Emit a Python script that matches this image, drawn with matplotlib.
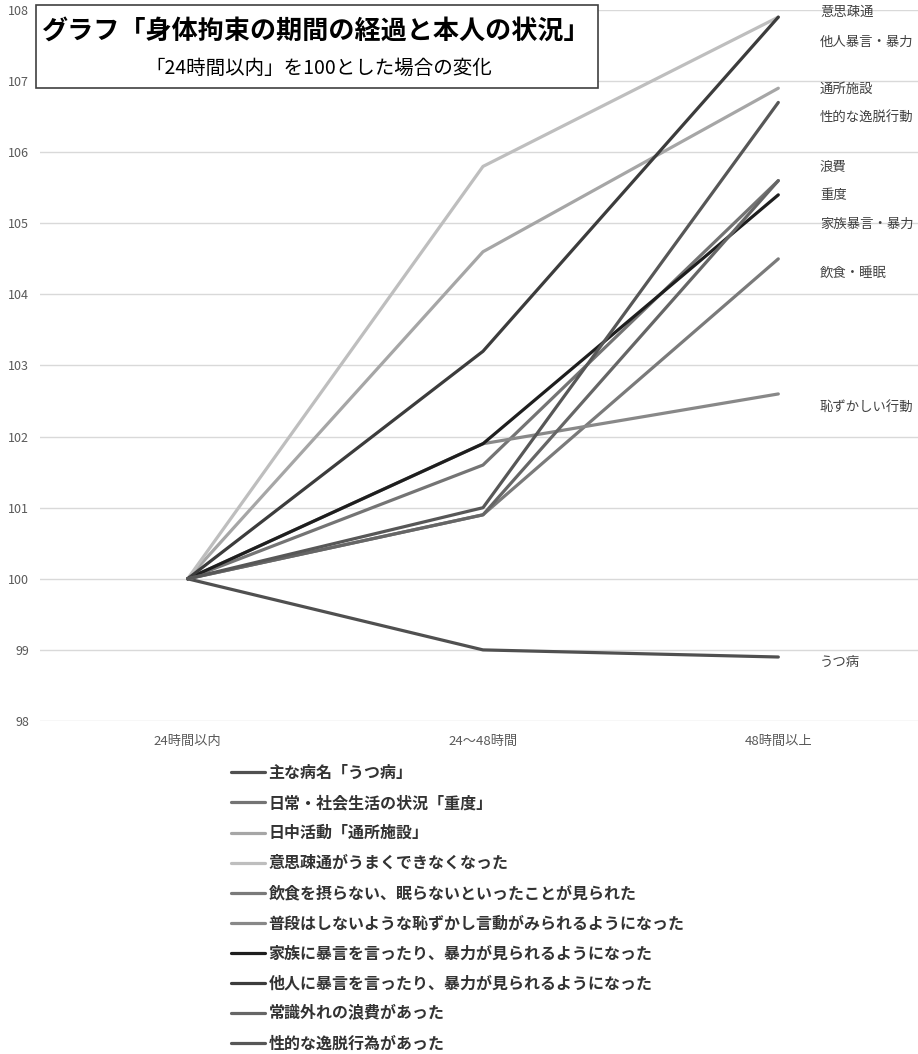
import matplotlib
matplotlib.use("Agg")
from matplotlib import pyplot as plt
from matplotlib.patches import Rectangle

plt.rcParams['font.family'] = ['Noto Sans CJK JP', 'DejaVu Sans']

# categories on the x axis
periods = ["24時間以内", "24〜48時間", "48時間以上"]

# series (legend order), index values with "24時間以内" = 100
series_names = [
    "主な病名「うつ病」",
    "日常・社会生活の状況「重度」",
    "日中活動「通所施設」",
    "意思疎通がうまくできなくなった",
    "飲食を摂らない、眠らないといったことが見られた",
    "普段はしないような恥ずかし言動がみられるようになった",
    "家族に暴言を言ったり、暴力が見られるようになった",
    "他人に暴言を言ったり、暴力が見られるようになった",
    "常識外れの浪費があった",
    "性的な逸脱行為があった",
]
utsu = [100, 99.0, 98.9]
judo = [100, 101.6, 105.6]
tsusho = [100, 104.6, 106.9]
ishisotsu = [100, 105.8, 107.9]
inshoku = [100, 100.9, 104.5]
hazukashii = [100, 101.9, 102.6]
kazoku = [100, 101.9, 105.4]
tanin = [100, 103.2, 107.9]
rouhi = [100, 100.9, 105.6]
seiteki = [100, 101.0, 106.7]
values = [utsu, judo, tsusho, ishisotsu, inshoku,
          hazukashii, kazoku, tanin, rouhi, seiteki]

colors = ["#505050", "#747474", "#a6a6a6", "#bebebe", "#7a7a7a",
          "#888888", "#1e1e1e", "#3c3c3c", "#666666", "#575757"]

# short labels at the right end of the lines
end_labels = ["意思疎通", "他人暴言・暴力", "通所施設", "性的な逸脱行動", "浪費",
              "重度", "家族暴言・暴力", "飲食・睡眠", "恥ずかしい行動", "うつ病"]
end_label_y = [107.97, 107.55, 106.89, 106.5, 105.79,
               105.4, 104.99, 104.3, 102.42, 98.83]

W, H = 918, 1054
fig = plt.figure(figsize=(W / 100, H / 100), dpi=100)
ax = fig.add_axes([40 / W, 1 - 721 / H, 1 - 40 / W, (721 - 10) / H])

x = list(range(len(periods)))
handles = []
for name, ys, c in zip(series_names, values, colors):
    ln, = ax.plot(x, ys, color=c, lw=2.3, label=name,
                  solid_joinstyle='round', solid_capstyle='round', zorder=3)
    handles.append(ln)

ax.set_xlim(-0.5, 2.473)
ax.set_ylim(98, 108)
ax.set_yticks(range(98, 109))
ax.set_xticks(x)
ax.set_xticklabels(periods, fontsize=9.5, color="#595959")
ax.tick_params(axis='y', labelsize=9, labelcolor="#595959", length=0, pad=8)
ax.tick_params(axis='x', length=0, pad=10)
ax.grid(axis='y', color="#d9d9d9", lw=1)
ax.set_axisbelow(True)
for s in ax.spines.values():
    s.set_visible(False)

for lab, yl in zip(end_labels, end_label_y):
    ax.annotate(lab, xy=(2, yl), xytext=(30, 0), textcoords='offset points',
                fontsize=9.6, color="#404040", va='center', ha='left',
                annotation_clip=False)

# title box
fig.patches.append(Rectangle((36 / W, 1 - 88 / H), (598 - 36) / W, 83 / H,
                             transform=fig.transFigure, fill=True,
                             facecolor="white", edgecolor="#404040", lw=1.2,
                             zorder=5))
fig.text(316 / W, 1 - 31 / H, "グラフ「身体拘束の期間の経過と本人の状況」",
         fontsize=18.8, fontweight='bold', ha='center', va='center', zorder=6)
fig.text(319 / W, 1 - 68 / H, "「24時間以内」を100とした場合の変化",
         fontsize=14, ha='center', va='center', zorder=6)

fig.legend(handles=handles, loc='upper left',
           bbox_to_anchor=(231 / W, 1 - 765 / H), frameon=False,
           prop={'size': 11.5, 'weight': 'bold'}, labelcolor="#333333",
           handlelength=2.1, handletextpad=0.25, labelspacing=0.88,
           borderaxespad=0, borderpad=0)

fig.savefig("out.png", dpi=100)
